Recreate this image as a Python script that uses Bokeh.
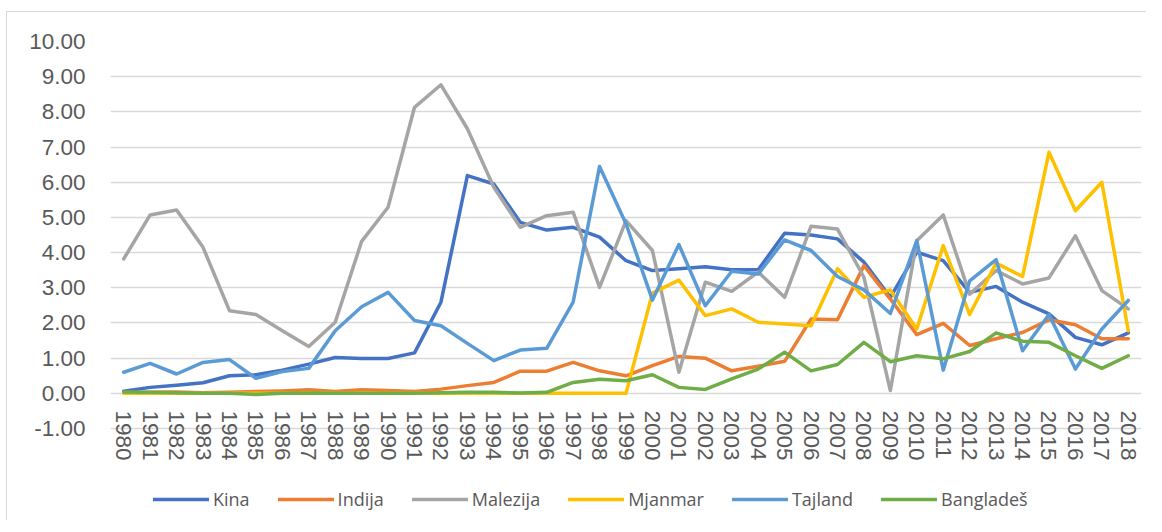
from bokeh.plotting import figure
from bokeh.models import (FixedTicker, NumeralTickFormatter, Legend, LegendItem,
                          Range1d, CustomJSTickFormatter)
from bokeh.embed import file_html
from bokeh.resources import INLINE

years = list(range(1980, 2019))

kina = [0.06, 0.17, 0.23, 0.30, 0.50, 0.53, 0.66, 0.83, 1.02, 0.99, 0.99, 1.15, 2.59,
        6.19, 5.95, 4.86, 4.64, 4.72, 4.44, 3.77, 3.49, 3.54, 3.60, 3.51, 3.51, 4.55,
        4.50, 4.39, 3.73, 2.73, 4.01, 3.77, 2.87, 3.04, 2.59, 2.26, 1.59, 1.38, 1.72]
indija = [0.02, 0.03, 0.04, 0.02, 0.03, 0.05, 0.07, 0.10, 0.05, 0.10, 0.08, 0.05, 0.12,
          0.22, 0.31, 0.63, 0.63, 0.88, 0.64, 0.50, 0.79, 1.05, 1.00, 0.64, 0.77, 0.91,
          2.11, 2.09, 3.63, 2.68, 1.67, 1.99, 1.36, 1.55, 1.73, 2.09, 1.95, 1.55, 1.55]
malezija = [3.82, 5.07, 5.21, 4.15, 2.35, 2.24, 1.78, 1.33, 2.02, 4.32, 5.29, 8.13, 8.77,
            7.52, 5.86, 4.72, 5.05, 5.15, 3.01, 4.91, 4.06, 0.60, 3.16, 2.90, 3.45, 2.73,
            4.75, 4.67, 3.30, 0.08, 4.34, 5.07, 2.82, 3.49, 3.11, 3.28, 4.48, 2.92, 2.40]
mjanmar = [0.0, 0.0, 0.0, 0.0, 0.0, 0.0, 0.0, 0.0, 0.0, 0.0, 0.0, 0.0, 0.0,
           0.0, 0.0, 0.0, 0.0, 0.0, 0.0, 0.0, 2.85, 3.22, 2.21, 2.40, 2.02, 1.97,
           1.92, 3.54, 2.73, 2.94, 1.83, 4.20, 2.24, 3.70, 3.32, 6.85, 5.19, 6.00, 1.78]
tajland = [0.60, 0.85, 0.55, 0.88, 0.96, 0.43, 0.62, 0.71, 1.78, 2.46, 2.87, 2.07, 1.92,
           1.42, 0.93, 1.23, 1.28, 2.59, 6.45, 4.82, 2.65, 4.23, 2.49, 3.47, 3.39, 4.36,
           4.06, 3.32, 2.94, 2.27, 4.34, 0.66, 3.20, 3.80, 1.21, 2.24, 0.69, 1.83, 2.64]
bangladesh = [0.04, 0.03, 0.02, 0.00, 0.00, -0.03, 0.00, 0.01, 0.00, 0.00, 0.00, 0.00, 0.02,
              0.03, 0.03, 0.01, 0.03, 0.31, 0.40, 0.36, 0.53, 0.17, 0.11, 0.41, 0.69, 1.17,
              0.64, 0.82, 1.45, 0.90, 1.07, 0.98, 1.19, 1.72, 1.48, 1.45, 1.07, 0.71, 1.07]

series_names = ["Kina", "Indija", "Malezija", "Mjanmar", "Tajland", "Bangladeš"]
series_values = [kina, indija, malezija, mjanmar, tajland, bangladesh]
colors = ["#4472C4", "#ED7D31", "#A5A5A5", "#FFC000", "#5B9BD5", "#70AD47"]
y_ticks = list(range(-1, 11))

p = figure(frame_width=1031, frame_height=475, output_backend="svg",
           toolbar_location=None,
           x_range=Range1d(1979.5, 2018.5), y_range=Range1d(-3.5, 10),
           min_border_left=103, min_border_right=5, min_border_top=29,
           min_border_bottom=4)
p.outline_line_color = None
p.background_fill_color = "white"
p.border_fill_color = "white"
p.styles = {"margin-left": "6px", "margin-top": "11px",
            "border-top": "1px solid #d9d9d9", "border-left": "1px solid #d9d9d9"}

# grid
p.xgrid.grid_line_color = None
p.ygrid.ticker = FixedTicker(ticks=y_ticks)
p.ygrid.grid_line_color = "#d9d9d9"
p.ygrid.grid_line_width = 1.5

# y axis
p.yaxis.ticker = FixedTicker(ticks=y_ticks)
p.yaxis.formatter = NumeralTickFormatter(format="0.00")
p.yaxis.axis_line_color = None
p.yaxis.major_tick_line_color = None
p.yaxis.minor_tick_line_color = None
p.yaxis.major_tick_out = 0
p.yaxis.major_label_standoff = 25
p.yaxis.major_label_text_font = "Liberation Sans"
p.yaxis.major_label_text_font_size = "22.5px"
p.yaxis.major_label_text_color = "#595959"

# x axis (labels pulled up to sit just under the zero line)
p.xaxis.ticker = FixedTicker(ticks=years)
p.xaxis.formatter = CustomJSTickFormatter(code="return String(tick)")
p.xaxis.major_label_orientation = "vertical"
p.xaxis.axis_line_color = None
p.xaxis.major_tick_line_color = None
p.xaxis.minor_tick_line_color = None
p.xaxis.major_tick_out = 0
p.xaxis.major_tick_in = 0
p.xaxis.major_label_standoff = -106
p.xaxis.major_label_text_font = "Liberation Sans"
p.xaxis.major_label_text_font_size = "22.5px"
p.xaxis.major_label_text_color = "#595959"

items = []
for name, vals, col in zip(series_names, series_values, colors):
    r = p.line(years, vals, line_color=col, line_width=3.5, line_join="round",
               line_cap="round")
    items.append(LegendItem(label=name, renderers=[r]))

legend = Legend(items=items, orientation="horizontal", location=(43, 5),
                glyph_width=56, glyph_height=20, label_height=20,
                label_standoff=4, spacing=28, padding=0, margin=0,
                border_line_color=None, background_fill_alpha=0,
                label_text_font="Open Sans", label_text_font_size="18px",
                label_text_color="#595959")
p.add_layout(legend, "center")

open("out.html", "w").write(file_html(p, INLINE))
